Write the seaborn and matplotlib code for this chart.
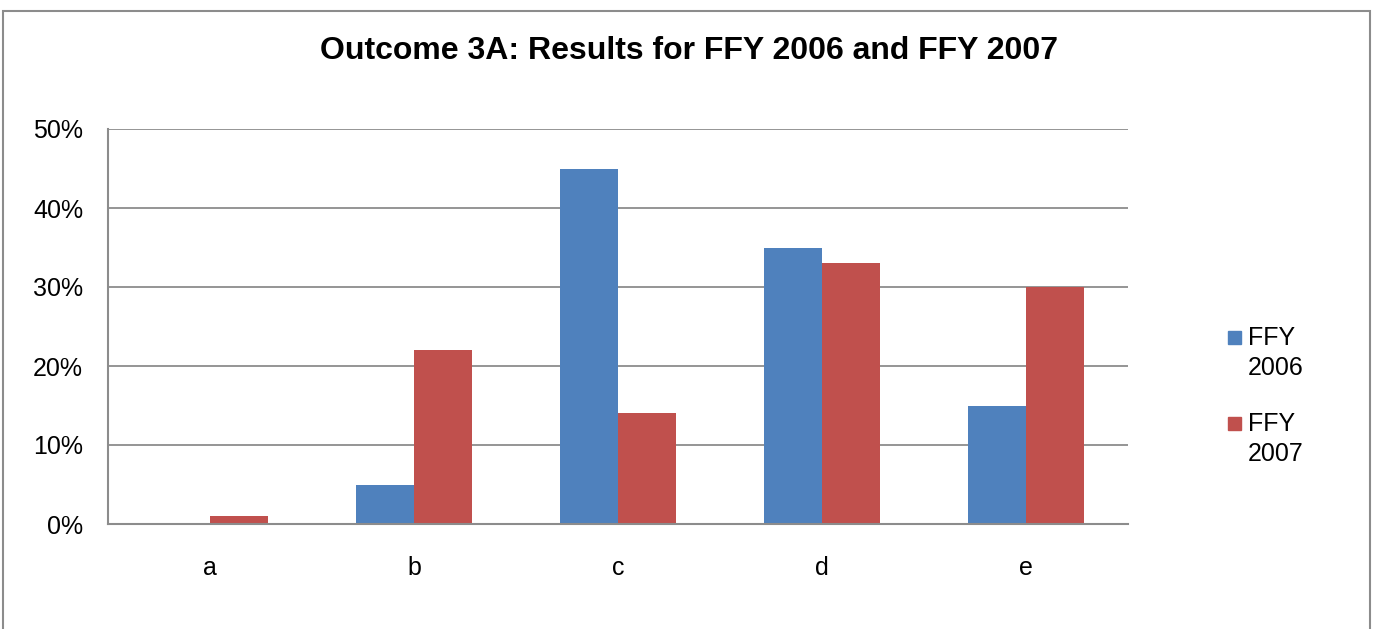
import matplotlib
matplotlib.use('Agg')
import matplotlib.pyplot as plt
import matplotlib.patches as mpatches
import seaborn as sns
import pandas as pd

# Datos
categorias = ['a', 'b', 'c', 'd', 'e']
ffy_2006 = [0, 5, 45, 35, 15]
ffy_2007 = [1, 22, 14, 33, 30]
series = ['FFY\n2006', 'FFY\n2007']
colores = ['#4F81BD', '#C0504D']

sns.set_theme(style='white')
plt.rcParams['font.family'] = ['Liberation Sans', 'DejaVu Sans']

df = pd.DataFrame({
    'categoria': categorias * 2,
    'valor': ffy_2006 + ffy_2007,
    'serie': [series[0]] * 5 + [series[1]] * 5,
})

W, H = 1374, 629
fig = plt.figure(figsize=(W / 100, H / 100), dpi=100)
ax = fig.add_axes([108 / W, 1 - 524 / H, 1020 / W, 395 / H])

sns.barplot(data=df, x='categoria', y='valor', hue='serie', palette=colores,
            width=0.57, saturation=1, linewidth=0, ax=ax, legend=False)

ax.set_ylim(0, 50)
ax.set_xlim(-0.5, 4.5)
ax.set_yticks([0, 10, 20, 30, 40, 50])
ax.set_yticklabels([f'{v}%' for v in range(0, 51, 10)], fontsize=18)
ax.tick_params(axis='x', labelsize=18, length=0, pad=23)
ax.tick_params(axis='y', length=0, pad=18)
for t in ax.get_xticklabels() + ax.get_yticklabels():
    t.set_color('black')
ax.set_xlabel('')
ax.set_ylabel('')
ax.yaxis.grid(True, color='#8c8c8c', linewidth=1.3)
ax.set_axisbelow(True)
for lado in ['top', 'right']:
    ax.spines[lado].set_visible(False)
for lado in ['left', 'bottom']:
    ax.spines[lado].set_color('#8c8c8c')
    ax.spines[lado].set_linewidth(1.5)

# leyenda (cuadro alineado con la primera linea del texto)
for i, (nombre, color) in enumerate(zip(series, colores)):
    y0 = 331 + i * 86
    fig.patches.append(mpatches.Rectangle((1228 / W, 1 - (y0 + 13) / H), 13 / W, 13 / H,
                                          transform=fig.transFigure, color=color))
    fig.text(1248 / W, 1 - (y0 - 5) / H, nombre, ha='left', va='top',
             fontsize=18, color='black', linespacing=1.3)

fig.text(689 / W, 1 - 51 / H, 'Outcome 3A: Results for FFY 2006 and FFY 2007',
         ha='center', va='center', fontsize=23, fontweight='bold', color='black')

# marco del grafico
marco = mpatches.Rectangle((3 / W, -0.05), 1367 / W, 1 - 11 / H + 0.05,
                           transform=fig.transFigure, fill=False,
                           edgecolor='#8c8c8c', linewidth=1.5)
fig.patches.append(marco)

fig.savefig('out.png', dpi=100)
